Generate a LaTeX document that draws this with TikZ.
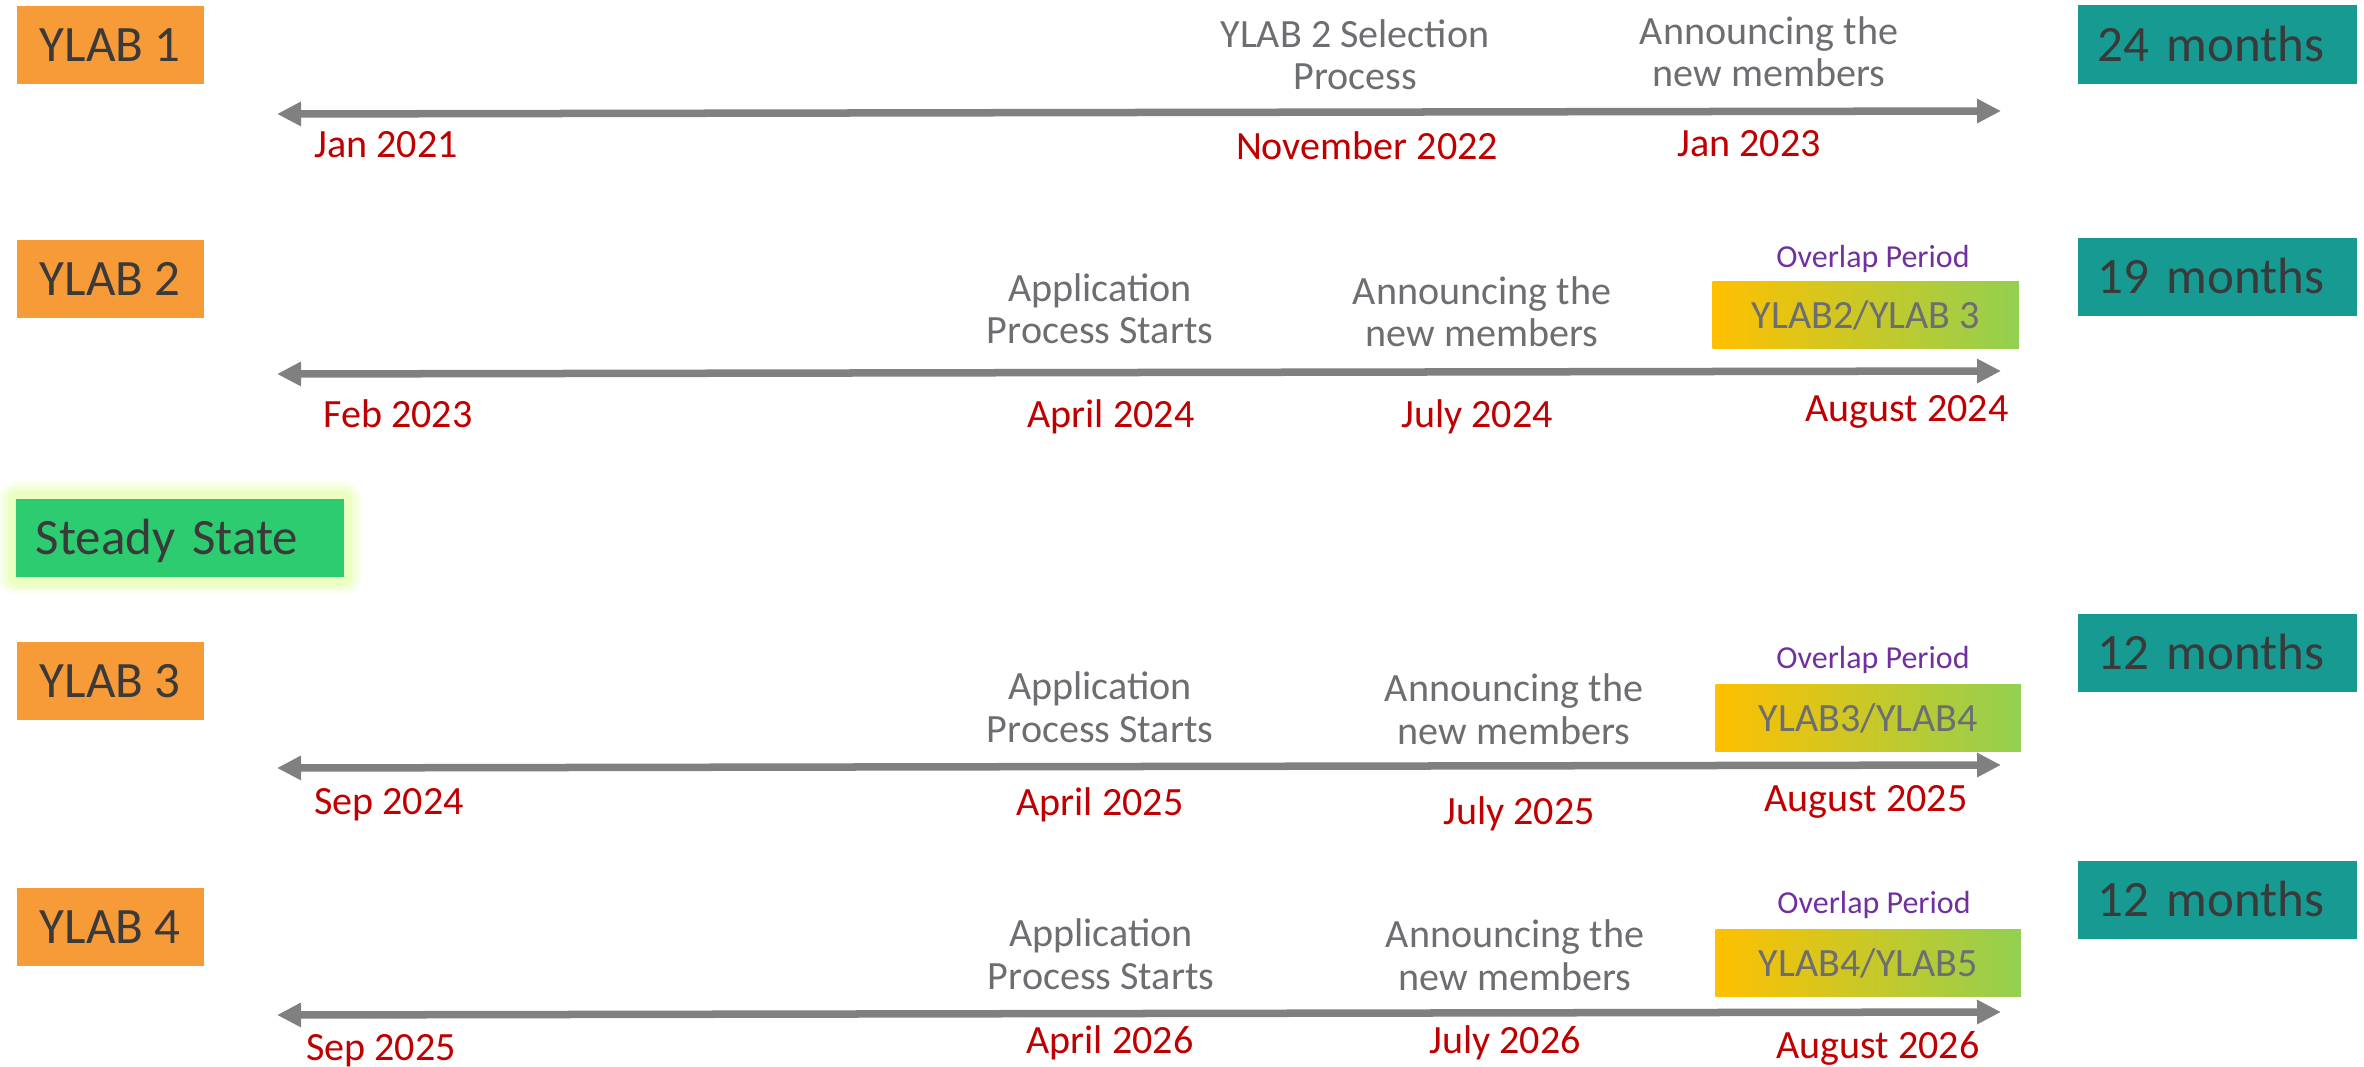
\documentclass[tikz,border=0pt]{standalone}
\usepackage{fontspec}
\setmainfont{Carlito}
\usetikzlibrary{arrows.meta,positioning}

\definecolor{labOrange}{HTML}{F79A38}
\definecolor{labTeal}{HTML}{169A92}
\definecolor{labGreen}{HTML}{2ECC71}
\definecolor{labGlow}{HTML}{EAFFC0}
\definecolor{boxText}{HTML}{3A3A3A}
\definecolor{stageGray}{HTML}{6D6E71}
\definecolor{dateRed}{HTML}{C00000}
\definecolor{ovlPurple}{HTML}{7030A0}
\definecolor{ovlLeft}{HTML}{FFC000}
\definecolor{ovlRight}{HTML}{92D050}
\definecolor{lineGray}{HTML}{808080}

\tikzset{
  tagbox/.style={fill=labOrange, text=boxText, font=\fontsize{14.5}{16}\selectfont,
    anchor=west, inner xsep=0.2cm, inner ysep=0pt, minimum width=1.87cm,
    minimum height=0.78cm, text height=0.33cm, text depth=0cm},
  monthbox/.style={tagbox, fill=labTeal, text width=2.39cm, align=left},
  steadybox/.style={tagbox, fill=labGreen, text width=2.88cm, align=left,
    preaction={draw=labGlow, line width=0.34cm, line join=round, opacity=0.3},
    preaction={draw=labGlow, line width=0.26cm, line join=round, opacity=0.5},
    preaction={draw=labGlow, line width=0.16cm, line join=round}},
  ovlbox/.style={left color=ovlLeft, right color=ovlRight, text=stageGray,
    font=\fontsize{11.4}{13}\selectfont, anchor=west, inner sep=0pt,
    minimum width=3.05cm, minimum height=0.66cm, text height=0.26cm, text depth=0cm},
  stagetext/.style={text=stageGray, font=\fontsize{11.4}{12.2}\selectfont,
    align=center, anchor=base, inner sep=0pt},
  datetext/.style={text=dateRed, font=\fontsize{11.4}{13}\selectfont, anchor=base, inner sep=0pt},
  ovltext/.style={text=ovlPurple, font=\fontsize{9.1}{11}\selectfont, anchor=base, inner sep=0pt},
  timeline/.style={draw=lineGray, line width=0.075cm,
    arrows={Triangle[length=0.24cm,width=0.23cm]-Triangle[length=0.24cm,width=0.23cm]}}
}

\begin{document}
\begin{tikzpicture}[x=0.01cm, y=-0.01cm]
    \useasboundingbox (0,0) rectangle (2364,1067);

    % YLAB 1
    \node[tagbox] (ylab1) at (16,45) {YLAB 1};
    \node[monthbox] (m24) at (2077,44.5) {24 months};
    \coordinate (s1) at (277,114);
    \coordinate (e1) at (2001,111);
    \draw[timeline] (s1) -- (e1);
    \node[stagetext] (select1) at (1355,90) {YLAB 2 Selection\\Process};
    \node[stagetext] (announce1) at (1769,87) {Announcing the\\new members};
    \node[datetext] (jan21) at (386,158) {Jan 2021};
    \node[datetext] (nov22) at (1367,160) {November 2022};
    \node[datetext] (jan23) at (1749,157) {Jan 2023};

    % YLAB 2
    \node[tagbox] (ylab2) at (16,279) {YLAB 2};
    \node[monthbox] (m19) at (2077,277) {19 months};
    \coordinate (s2) at (277,374);
    \coordinate (e2) at (2001,371);
    \draw[timeline] (s2) -- (e2);
    \node[stagetext] (apply2) at (1100,344) {Application\\Process Starts};
    \node[stagetext] (announce2) at (1482,347) {Announcing the\\new members};
    \node[ovltext] (period2) at (1873,268) {Overlap Period};
    \node[ovlbox, minimum width=3.06cm] (ovl2) at (1712,315) {YLAB2/YLAB 3};
    \node[datetext] (feb23) at (398,428) {Feb 2023};
    \node[datetext] (apr24) at (1111,428) {April 2024};
    \node[datetext] (jul24) at (1477,428) {July 2024};
    \node[datetext] (aug24) at (1907,422) {August 2024};

    % steady state
    \node[steadybox] (steady) at (15,538) {Steady State};

    % YLAB 3
    \node[tagbox] (ylab3) at (16,681) {YLAB 3};
    \node[monthbox] (m12a) at (2077,653) {12 months};
    \coordinate (s3) at (277,768);
    \coordinate (e3) at (2001,765);
    \draw[timeline] (s3) -- (e3);
    \node[stagetext] (apply3) at (1100,742) {Application\\Process Starts};
    \node[stagetext] (announce3) at (1514,744) {Announcing the\\new members};
    \node[ovltext] (period3) at (1873,668) {Overlap Period};
    \node[ovlbox] (ovl3) at (1715,718) {YLAB3/YLAB4};
    \node[datetext] (sep24) at (389,814) {Sep 2024};
    \node[datetext] (apr25) at (1100,815) {April 2025};
    \node[datetext] (jul25) at (1519,824) {July 2025};
    \node[datetext] (aug25) at (1866,811) {August 2025};

    % YLAB 4
    \node[tagbox] (ylab4) at (16,927) {YLAB 4};
    \node[monthbox] (m12b) at (2077,900) {12 months};
    \coordinate (s4) at (277,1015);
    \coordinate (e4) at (2001,1012);
    \draw[timeline] (s4) -- (e4);
    \node[stagetext] (apply4) at (1101,989) {Application\\Process Starts};
    \node[stagetext] (announce4) at (1515,990) {Announcing the\\new members};
    \node[ovltext] (period4) at (1874,913) {Overlap Period};
    \node[ovlbox] (ovl4) at (1715,963) {YLAB4/YLAB5};
    \node[datetext] (sep25) at (381,1060) {Sep 2025};
    \node[datetext] (apr26) at (1110,1053) {April 2026};
    \node[datetext] (jul26) at (1505,1053) {July 2026};
    \node[datetext] (aug26) at (1878,1058) {August 2026};
\end{tikzpicture}
\end{document}
